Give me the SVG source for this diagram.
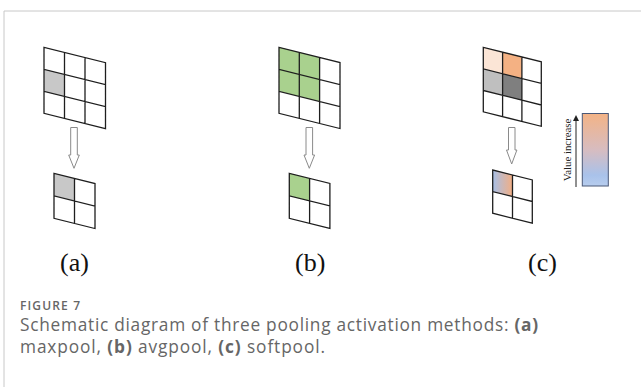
<svg xmlns="http://www.w3.org/2000/svg" width="641" height="387" viewBox="0 0 641 387">
<defs>
<linearGradient id="cellGrad" x1="0" y1="0" x2="1" y2="0">
<stop offset="0" stop-color="#a7c0e8"/>
<stop offset="1" stop-color="#f2ae84"/>
</linearGradient>
<linearGradient id="barGrad" x1="0" y1="0" x2="0" y2="1">
<stop offset="0" stop-color="#f3b386"/>
<stop offset="0.5" stop-color="#d7bcc0"/>
<stop offset="0.85" stop-color="#a9c2ea"/>
<stop offset="1" stop-color="#b7cdee"/>
</linearGradient>
<marker id="tri" markerWidth="6" markerHeight="6" refX="3" refY="3" orient="auto">
<path d="M0,0 L6,3 L0,6 z" fill="#222"/>
</marker>
<style>
.g{fill:none;stroke:#1e1e1e;stroke-width:1.3}
.c{stroke:none}
.arr{fill:#fff;stroke:#8a8a8a;stroke-width:1}
.lbl{font-family:"Liberation Serif",serif;font-size:26px;fill:#111}
.cap{font-family:"Open Sans","Liberation Sans",sans-serif;fill:#666}
</style>
</defs>
<rect width="641" height="387" fill="#fff"/>
<path d="M4,387 V11 H641" fill="none" stroke="#c8c8c8" stroke-width="1"/>

<g id="a-top" transform="matrix(1 0.25 0 1 44 47.3)">
<rect x="0" y="22" width="20.5" height="22" fill="#c8c8c8" class="c"/>
<path class="g" d="M0,0 H61.5 V66 H0 Z M20.5,0 V66 M41,0 V66 M0,22 H61.5 M0,44 H61.5"/>
</g>
<g id="a-bottom" transform="matrix(1 0.25 0 1 54 173.3)">
<rect x="0" y="0" width="20.5" height="22.5" fill="#c8c8c8" class="c"/>
<path class="g" d="M0,0 H41 V45 H0 Z M20.5,0 V45 M0,22.5 H41"/>
</g>

<g id="b-top" transform="matrix(1 0.25 0 1 279 47.3)">
<rect x="0" y="0" width="40.6" height="44" fill="#a9d18e" class="c"/>
<path class="g" d="M0,0 H61 V66 H0 Z M20.3,0 V66 M40.6,0 V66 M0,22 H61 M0,44 H61"/>
</g>
<g id="b-bottom" transform="matrix(1 0.25 0 1 289.3 173.3)">
<rect x="0" y="0" width="20.3" height="22.5" fill="#a9d18e" class="c"/>
<path class="g" d="M0,0 H40.6 V45 H0 Z M20.3,0 V45 M0,22.5 H40.6"/>
</g>

<g id="c-top" transform="matrix(1 0.25 0 1 483.3 47.3)">
<rect x="0" y="0" width="19.3" height="21.6" fill="#fbe5d6" class="c"/>
<rect x="19.3" y="0" width="19.3" height="21.6" fill="#f4b183" class="c"/>
<rect x="0" y="21.6" width="19.3" height="21.6" fill="#bfbfbf" class="c"/>
<rect x="19.3" y="21.6" width="19.3" height="21.6" fill="#7f7f7f" class="c"/>
<path class="g" d="M0,0 H58 V64.5 H0 Z M19.3,0 V64.5 M38.6,0 V64.5 M0,21.6 H58 M0,43.2 H58"/>
</g>
<g id="c-bottom" transform="matrix(1 0.25 0 1 492.7 170)">
<rect x="0" y="0" width="19.8" height="21.6" fill="url(#cellGrad)" class="c"/>
<path class="g" d="M0,0 H39.6 V43.2 H0 Z M19.8,0 V43.2 M0,21.6 H39.6"/>
</g>

<g id="connectors">
<path class="arr" d="M70.7,127.5 H77.3 V155 H79.3 L74,168.3 L68.7,155 H70.7 Z"/>
<path class="arr" d="M306,127.5 H312.6 V155 H314.6 L309.3,168.3 L304,155 H306 Z"/>
<path class="arr" d="M508.5,127.5 H515 V150 H516.9 L511.7,164 L506.5,150 H508.5 Z"/>
</g>

<g id="legend">
<rect x="582.3" y="113.5" width="26" height="72.5" fill="url(#barGrad)" stroke="#4a5877" stroke-width="1"/>
<line x1="576" y1="187" x2="576" y2="118" stroke="#222" stroke-width="1" marker-end="url(#tri)"/>
<text transform="translate(571,150) rotate(-90)" text-anchor="middle" font-family="Liberation Serif, serif" font-size="10.8" fill="#222">Value increase</text>
</g>

<text class="lbl" x="60" y="271">(a)</text>
<text class="lbl" x="295" y="271">(b)</text>
<text class="lbl" x="528" y="271">(c)</text>

<text class="cap" x="20" y="310" font-size="12" font-weight="600" textLength="60" lengthAdjust="spacing">FIGURE 7</text>
<text class="cap" x="20" y="331" font-size="17.3" textLength="518" lengthAdjust="spacing">Schematic diagram of three pooling activation methods: <tspan font-weight="700">(a)</tspan></text>
<text class="cap" x="20" y="353" font-size="17.3" textLength="305" lengthAdjust="spacing">maxpool, <tspan font-weight="700">(b)</tspan> avgpool, <tspan font-weight="700">(c)</tspan> softpool.</text>
</svg>
